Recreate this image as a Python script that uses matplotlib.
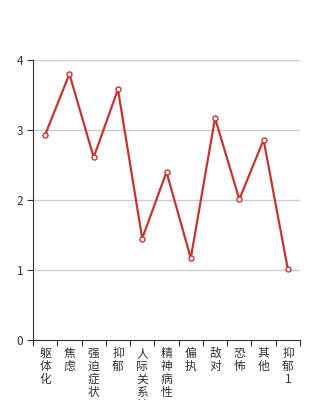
import matplotlib.pyplot as plt

plt.rcParams['font.family'] = ['Noto Sans CJK SC', 'DejaVu Sans']

categories = ['躯体化', '焦虑', '强迫症状', '抑郁', '人际关系敏感', '精神病性',
              '偏执', '敌对', '恐怖', '其他', '抑郁1']
values = [2.93, 3.80, 2.61, 3.58, 1.45, 2.40, 1.17, 3.17, 2.01, 2.86, 1.01]
yticks = [0, 1, 2, 3, 4]

fig = plt.figure(figsize=(3.34, 4.0), dpi=100)
ax = fig.add_axes([33 / 334, 60 / 400, 267 / 334, 280 / 400])

x = list(range(len(categories)))
ax.plot(x, values, color='#c23531', linewidth=1.6, marker='o', markersize=3.6,
        markerfacecolor='white', markeredgecolor='#c23531', markeredgewidth=1,
        zorder=3, clip_on=False)

ax.set_xlim(-0.5, len(categories) - 0.5)
ax.set_ylim(0, 4)
ax.set_yticks(yticks)
ax.set_yticklabels([str(t) for t in yticks], fontsize=8.5, color='#333333')
for t in yticks[1:]:
    ax.axhline(t, color='#cccccc', linewidth=1, zorder=1)

ax.set_xticks([i - 0.5 for i in range(len(categories) + 1)])
ax.set_xticklabels([])
ax.set_xticks(x, minor=True)
ax.set_xticklabels(['\n'.join(c) for c in categories], minor=True,
                   fontsize=8.5, color='#333333', va='top', linespacing=1.0)
ax.tick_params(axis='x', which='minor', length=0, pad=5)
ax.tick_params(axis='x', which='major', length=4, color='#333333')
ax.tick_params(axis='y', length=4, color='#333333', pad=3)

for side in ['top', 'right']:
    ax.spines[side].set_visible(False)
for side in ['left', 'bottom']:
    ax.spines[side].set_color('#333333')

fig.savefig('out.png', dpi=100)
